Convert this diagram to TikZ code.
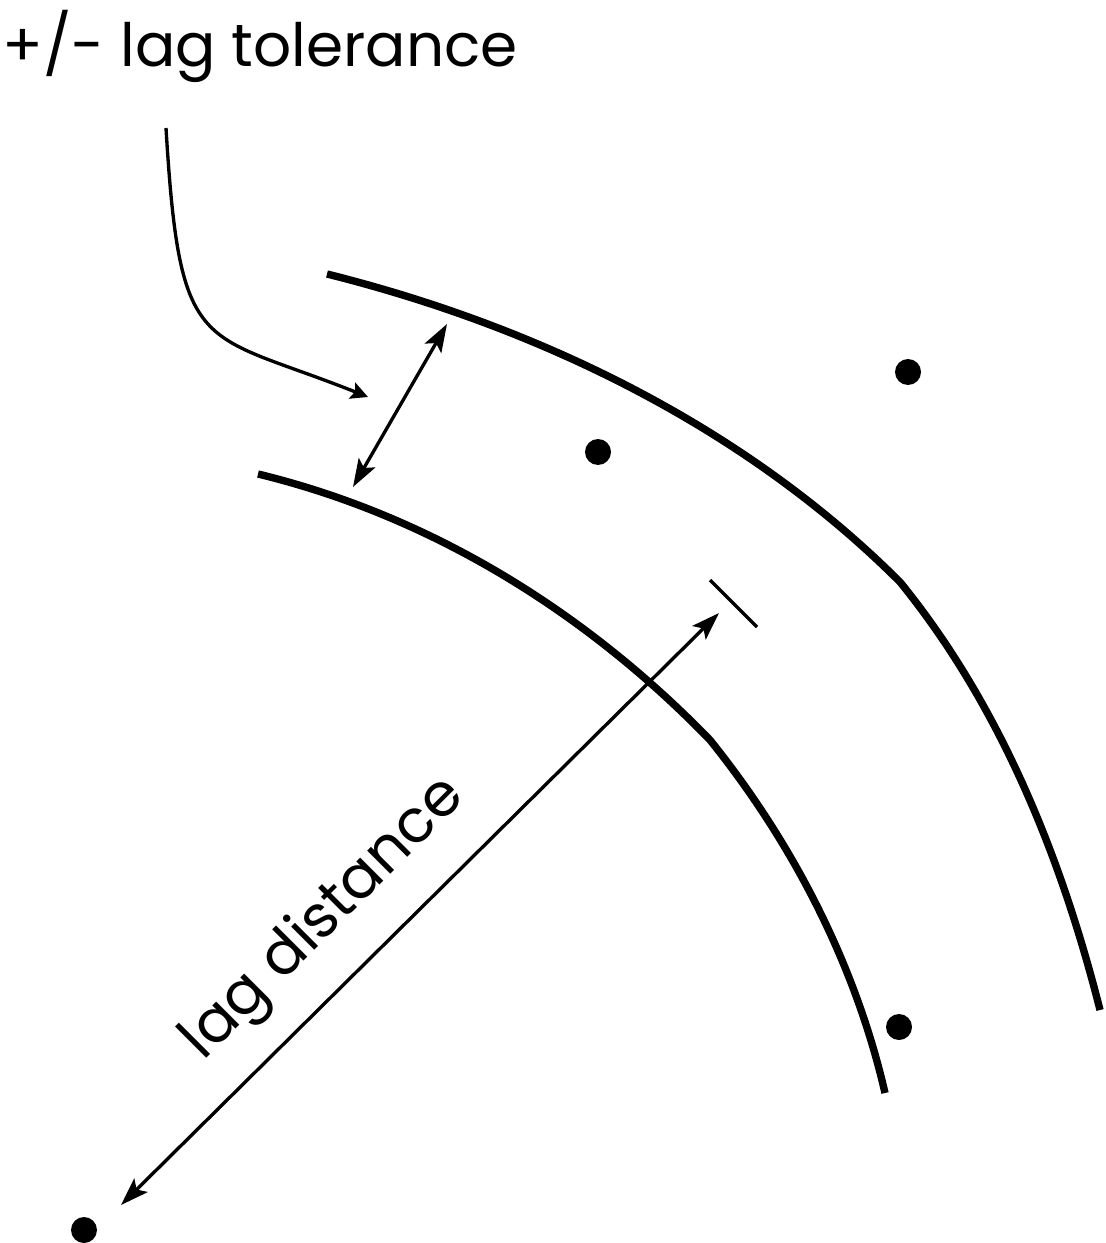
\documentclass[tikz,border=0pt]{standalone}
\usepackage{fontspec}
\setmainfont{Poppins}
\usepackage{tikz}
\usetikzlibrary{arrows.meta}

\begin{document}
\begin{tikzpicture}[
  x=0.02cm, y=-0.02cm,
  band/.style={line width=4.2pt, line join=round},
  twoway/.style={line width=1.9pt, {Stealth[length=0.56cm, width=0.38cm, inset=0.12cm]}-{Stealth[length=0.56cm, width=0.38cm, inset=0.12cm]}},
  ptr/.style={line width=1.9pt, -{Stealth[length=0.34cm, width=0.34cm, inset=0.06cm]}},
  tick/.style={line width=1.9pt},
  dot/.style={circle, fill=black, inner sep=0pt, minimum size=0.52cm},
  lbl/.style={inner sep=0pt, font=\fontsize{34}{38}\selectfont}
]
  \useasboundingbox (0,0) rectangle (1105,1243);

  % the two limits of the lag band
  \draw[band] (327,274) .. controls (539,327) and (745,427) .. (900,582)
              .. controls (1000,705) and (1061,856) .. (1100,1010);
  \draw[band] (258,474) .. controls (431,516) and (586,612) .. (710,740)
              .. controls (792,842) and (855,963) .. (885,1093);

  % data points
  \node[dot] (p0) at (84,1230) {};
  \node[dot] (p1) at (598,452) {};
  \node[dot] (p2) at (908,372) {};
  \node[dot] (p3) at (899,1027) {};

  % labels
  \node[lbl, anchor=base west] (tol) at (2,67) {+/- lag tolerance};
  \node[lbl, rotate=45, anchor=base] (dist) at (335,930) {lag distance};

  \coordinate (bandin)  at (353,487);
  \coordinate (bandout) at (447,324);
  \coordinate (ptrend)  at (368,397);
  \coordinate (lagfoot) at (121,1205);
  \coordinate (laghead) at (719,613);

  \draw[twoway] (bandin) -- (bandout);
  \draw[ptr] (166,128) .. controls (180,360) and (200,330) .. (ptrend);
  \draw[twoway] (lagfoot) -- (laghead);
  \draw[tick] (710,580) -- (757,627);
\end{tikzpicture}
\end{document}
